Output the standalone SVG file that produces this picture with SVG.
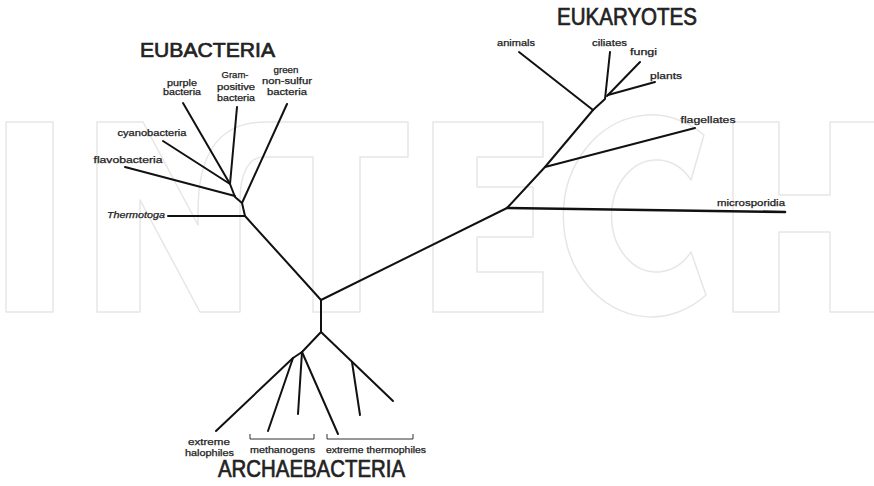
<svg xmlns="http://www.w3.org/2000/svg" width="874" height="486" viewBox="0 0 874 486">
<style>
.wm{fill:none;stroke:#e6e6e6;stroke-width:1.5;stroke-linejoin:round}
.br{fill:none;stroke:#111;stroke-width:2;stroke-linecap:round;stroke-linejoin:round}
.thk{stroke-width:2.6}
.bk{fill:none;stroke:#333;stroke-width:1}
.lb{font-family:"Liberation Sans",Arial,sans-serif;font-size:8.5px;fill:#222;stroke:#222;stroke-width:0.25;text-anchor:middle}
.it{font-style:italic}
.hd{font-family:"Liberation Sans",Arial,sans-serif;fill:#222;stroke:#222;stroke-width:0.7;text-anchor:middle}
</style>
<rect width="874" height="486" fill="#fff"/>
<g id="watermark">
<rect class="wm" x="6" y="122" width="47" height="190"/>
<path class="wm" d="M97,122 H143 L198,225 V212 C198,160 214,122 265,122 H408 V157 H360 V312 H313 V157 H263 C250,157 240,172 240,200 V312 H200 L140,200 V312 H97 Z"/>
<path class="wm" d="M433,122 H543 V157 H477 V187 H533 V237 H477 V272 H543 V312 H433 Z"/>
<path class="wm" d="M704,135 A88,101 0 1 0 706,295 L691,252 A45,56 0 1 1 691,180 Z"/>
<path class="wm" d="M733,122 H779 V195 H830 V122 H876 V312 H830 V232 H779 V312 H733 Z"/>
</g>
<g id="connectors">
<path class="br" d="M321,300 L245,216 L242,203 L235,197 L230,184"/>
<path class="br" d="M168,216 L245,216"/>
<path class="br" d="M242,203 L287,104"/>
<path class="br" d="M125,167 L235,196"/>
<path class="br" d="M163,141 L230,184"/>
<path class="br" d="M183,103 L230,184"/>
<path class="br" d="M237,107 L230,184"/>
<path class="br" d="M321,300 L507,208 L545,167 L593,110"/>
<path class="br thk" d="M507,208 L785,212"/>
<path class="br" d="M545,167 L695,128"/>
<path class="br" d="M593,110 L519,52"/>
<path class="br" d="M593,110 L605,99 L610,52"/>
<path class="br" d="M607,96 L640,62"/>
<path class="br" d="M608,95 L655,82"/>
<path class="br" d="M321,300 V332 L302,352 L293,358"/>
<path class="br" d="M293,358 L216,431"/>
<path class="br" d="M293,358 L268,431"/>
<path class="br" d="M302,352 L298,414"/>
<path class="br" d="M302,352 L338,434"/>
<path class="br" d="M321,332 L393,401"/>
<path class="br" d="M352,362 L360,415"/>
<path class="bk" d="M250,434 V439 H314 V434"/>
<path class="bk" d="M327,434 V439 H413 V434"/>
</g>
<g id="eubacteria">
<text class="hd" x="207.5" y="57" font-size="21" textLength="135" lengthAdjust="spacingAndGlyphs">EUBACTERIA</text>
<text class="lb" x="182" y="86" textLength="30" lengthAdjust="spacingAndGlyphs">purple</text>
<text class="lb" x="182" y="95" textLength="38" lengthAdjust="spacingAndGlyphs">bacteria</text>
<text class="lb" x="235" y="78" textLength="27" lengthAdjust="spacingAndGlyphs">Gram-</text>
<text class="lb" x="236" y="90" textLength="38" lengthAdjust="spacingAndGlyphs">positive</text>
<text class="lb" x="236" y="101" textLength="38" lengthAdjust="spacingAndGlyphs">bacteria</text>
<text class="lb" x="286" y="73" textLength="25" lengthAdjust="spacingAndGlyphs">green</text>
<text class="lb" x="287" y="84" textLength="50" lengthAdjust="spacingAndGlyphs">non-sulfur</text>
<text class="lb" x="287" y="95" textLength="40" lengthAdjust="spacingAndGlyphs">bacteria</text>
<text class="lb" x="152" y="136" textLength="69" lengthAdjust="spacingAndGlyphs">cyanobacteria</text>
<text class="lb" x="128" y="163" textLength="69" lengthAdjust="spacingAndGlyphs">flavobacteria</text>
<text class="lb it" x="136" y="218" textLength="58" lengthAdjust="spacingAndGlyphs">Thermotoga</text>
</g>
<g id="eukaryotes">
<text class="hd" x="627" y="25" font-size="23" textLength="140" lengthAdjust="spacingAndGlyphs">EUKARYOTES</text>
<text class="lb" x="516" y="46" textLength="38" lengthAdjust="spacingAndGlyphs">animals</text>
<text class="lb" x="609.5" y="46" textLength="35" lengthAdjust="spacingAndGlyphs">ciliates</text>
<text class="lb" x="643.5" y="55" textLength="27" lengthAdjust="spacingAndGlyphs">fungi</text>
<text class="lb" x="666" y="79" textLength="32" lengthAdjust="spacingAndGlyphs">plants</text>
<text class="lb" x="708" y="123" textLength="55" lengthAdjust="spacingAndGlyphs">flagellates</text>
<text class="lb" x="751" y="206" textLength="68" lengthAdjust="spacingAndGlyphs">microsporidia</text>
</g>
<g id="archaebacteria">
<text class="hd" x="311.5" y="477" font-size="23" textLength="187" lengthAdjust="spacingAndGlyphs">ARCHAEBACTERIA</text>
<text class="lb" x="209" y="445" textLength="42" lengthAdjust="spacingAndGlyphs">extreme</text>
<text class="lb" x="209.5" y="456" textLength="49" lengthAdjust="spacingAndGlyphs">halophiles</text>
<text class="lb" x="282.5" y="453" textLength="65" lengthAdjust="spacingAndGlyphs">methanogens</text>
<text class="lb" x="376" y="453" textLength="100" lengthAdjust="spacingAndGlyphs">extreme thermophiles</text>
</g>
</svg>
